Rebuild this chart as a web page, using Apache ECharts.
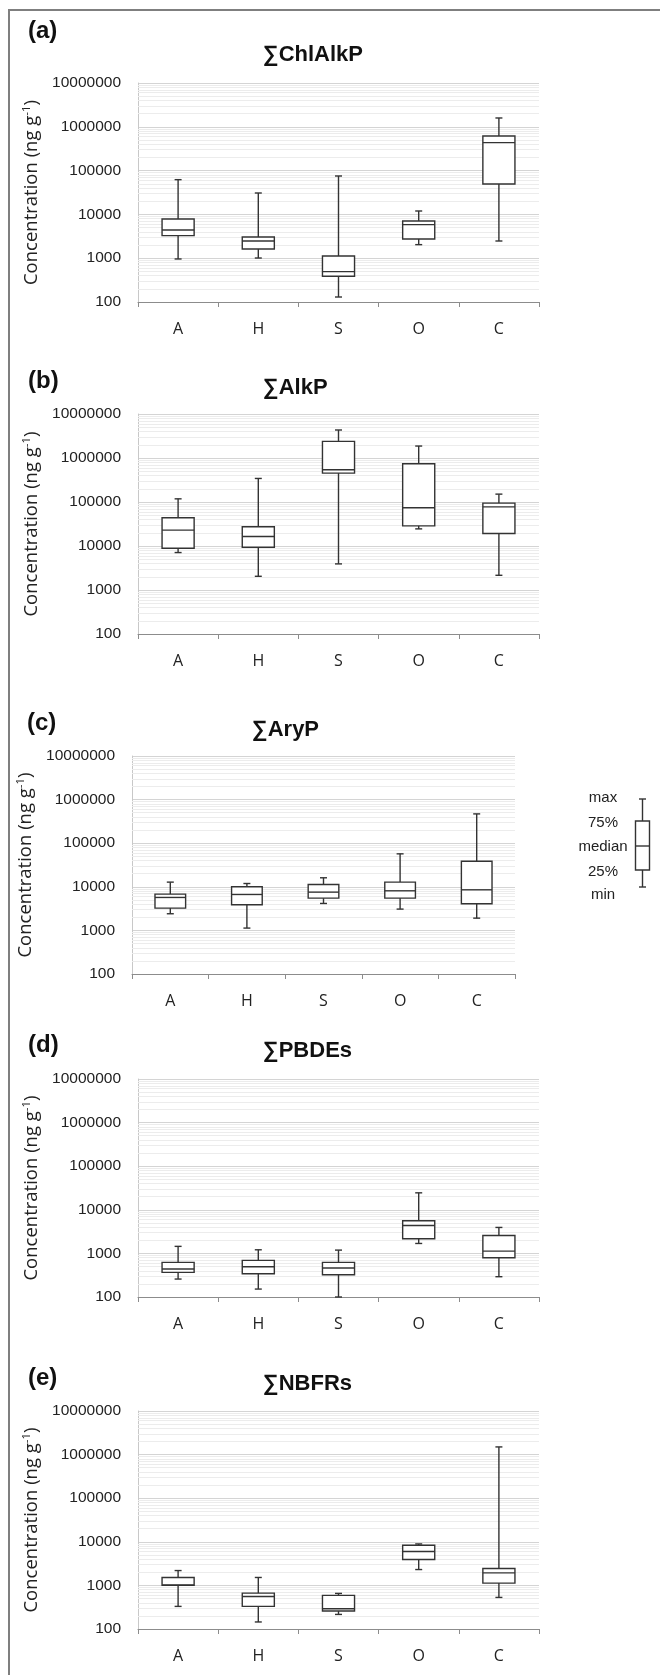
<!DOCTYPE html>
<html>
<head>
<meta charset="utf-8">
<script src="https://cdn.jsdelivr.net/npm/echarts@6/dist/echarts.min.js"></script>
<style>
html, body { margin: 0; padding: 0; background: #fff; }
#main { width: 660px; height: 1675px; }
</style>
</head>
<body>
<div id="main"></div>
<script>
// categories on every x axis
var categories = ['A', 'H', 'S', 'O', 'C'];

// each row: [min, 25%, median, 75%, max] in ng/g
var chlAlkP = [
	[960, 3270, 4400, 7850, 62100],
	[1010, 1620, 2470, 3050, 30800],
	[130, 386, 493, 1120, 75300],
	[2040, 2740, 5830, 7070, 11960],
	[2470, 49400, 435000, 616000, 1590000]
];
var alkP = [
	[7100, 8910, 22900, 43700, 118000],
	[2050, 9400, 16400, 27300, 343000],
	[3920, 454000, 541000, 2390000, 4330000],
	[24500, 28700, 73800, 741000, 1870000],
	[2160, 19200, 77600, 94200, 151000]
];
var aryP = [
	[2410, 3250, 5700, 6790, 12800],
	[1130, 3870, 6670, 10000, 11900],
	[4150, 5500, 7550, 11300, 16100],
	[3080, 5500, 8090, 12800, 57000],
	[1910, 4080, 8530, 38700, 470000]
];
var pbdes = [
	[258, 367, 438, 622, 1450],
	[152, 342, 495, 692, 1210],
	[100, 324, 461, 622, 1190],
	[1690, 2170, 4370, 5600, 24500],
	[292, 796, 1130, 2580, 3940]
];
var nbfrs = [
	[330, 1000, 1030, 1520, 2190],
	[145, 330, 558, 665, 1520],
	[216, 258, 292, 589, 655],
	[2310, 3920, 5970, 8340, 8930],
	[530, 1130, 1940, 2440, 1500000]
];

// y axis range (log)
var yMin = 100;
var yMax = 10000000;

// legend key box (arbitrary units) and its labels
var legendBox = [0, 17, 41, 66, 88];
var legendLabels = ['max', '75%', 'median', '25%', 'min'];

var panels = [
	{tag: '(a)', title: '∑ChlAlkP', stats: chlAlkP, left: 138, top: 83, width: 401, height: 219, titleX: 263, titleY: 57, tagX: 28, tagY: 33},
	{tag: '(b)', title: '∑AlkP', stats: alkP, left: 138, top: 414, width: 401, height: 220, titleX: 263, titleY: 390, tagX: 28, tagY: 383},
	{tag: '(c)', title: '∑AryP', stats: aryP, left: 132, top: 756, width: 383, height: 218, titleX: 252, titleY: 732, tagX: 27, tagY: 725},
	{tag: '(d)', title: '∑PBDEs', stats: pbdes, left: 138, top: 1079, width: 401, height: 218, titleX: 263, titleY: 1053, tagX: 28, tagY: 1047},
	{tag: '(e)', title: '∑NBFRs', stats: nbfrs, left: 138, top: 1411, width: 401, height: 218, titleX: 263, titleY: 1386, tagX: 28, tagY: 1380}
];

// minor log gridlines 2..9 of each decade
var minorVals = [];
for (var e = Math.log10(yMin); e < Math.log10(yMax); e++) {
	for (var k = 2; k < 10; k++) {
		minorVals.push(k * Math.pow(10, e));
	}
}

var lineColor = '#333';

function renderBox(params, api) {
	var x = api.value(0);
	var lo = api.coord([x, api.value(1)]);
	var q1 = api.coord([x, api.value(2)]);
	var md = api.coord([x, api.value(3)]);
	var q3 = api.coord([x, api.value(4)]);
	var hi = api.coord([x, api.value(5)]);
	var n = params.coordSys.width / api.value(6);
	var bw = n * 0.4;
	var cx = lo[0];
	var cap = 3.5;
	var st = {stroke: lineColor, lineWidth: 1.4, fill: null};
	return {
		type: 'group',
		children: [
			{type: 'line', shape: {x1: cx, y1: lo[1], x2: cx, y2: q1[1]}, style: st},
			{type: 'line', shape: {x1: cx, y1: q3[1], x2: cx, y2: hi[1]}, style: st},
			{type: 'line', shape: {x1: cx - cap, y1: lo[1], x2: cx + cap, y2: lo[1]}, style: st},
			{type: 'line', shape: {x1: cx - cap, y1: hi[1], x2: cx + cap, y2: hi[1]}, style: st},
			{type: 'rect', shape: {x: cx - bw / 2, y: q3[1], width: bw, height: q1[1] - q3[1]},
				style: {stroke: lineColor, lineWidth: 1.4, fill: '#fff'}},
			{type: 'line', shape: {x1: cx - bw / 2, y1: md[1], x2: cx + bw / 2, y2: md[1]}, style: st}
		]
	};
}

var grids = [], xAxes = [], yAxes = [], series = [], graphics = [];

panels.forEach(function (p, i) {
	grids.push({left: p.left, top: p.top, width: p.width, height: p.height, containLabel: false});
	xAxes.push({
		type: 'category', gridIndex: i, data: categories,
		axisLine: {lineStyle: {color: '#8c8c8c', width: 1}},
		axisTick: {show: true, length: 5, interval: 0, lineStyle: {color: '#8c8c8c'}},
		axisLabel: {margin: 19, fontSize: 16, color: '#222', fontFamily: 'Open Sans'},
		splitLine: {show: false}
	});
	yAxes.push({
		type: 'log', logBase: 10, gridIndex: i, min: yMin, max: yMax, splitNumber: 5,
		axisLine: {show: true, lineStyle: {color: '#c8c8c8'}},
		axisTick: {show: false},
		axisLabel: {margin: 17, fontSize: 15.5, color: '#222', fontFamily: 'Liberation Sans',
			formatter: function (v) { return String(Math.round(v)); }},
		splitLine: {show: true, lineStyle: {color: '#d4d4d4', width: 1}},
		name: '{m|Concentration (ng g}{s|-1}{m|)}',
		nameLocation: 'middle', nameRotate: 90, nameGap: p.left - 49,
		nameTextStyle: {
			rich: {
				m: {fontSize: 18.5, fontFamily: 'Open Sans', color: '#222', lineHeight: 22},
				s: {fontSize: 11.5, fontFamily: 'Open Sans', color: '#222', verticalAlign: 'top', lineHeight: 22}
			}
		}
	});
	series.push({
		type: 'custom', xAxisIndex: i, yAxisIndex: i, z: 3,
		renderItem: renderBox,
		encode: {x: 0, y: [1, 2, 3, 4, 5]},
		data: p.stats.map(function (s, j) { return [j, s[0], s[1], s[2], s[3], s[4], categories.length]; }),
		markLine: {
			silent: true, z: 1, symbol: ['none', 'none'], animation: false,
			label: {show: false},
			lineStyle: {color: '#ececec', type: 'solid', width: 1},
			data: minorVals.map(function (v) { return {yAxis: v}; })
		}
	});
	graphics.push({type: 'text', left: p.tagX, top: p.tagY - 14,
		style: {text: p.tag, font: 'bold 24px "Liberation Sans"', fill: '#111'}});
	graphics.push({type: 'text', left: p.titleX, top: p.titleY - 13,
		style: {text: p.title, font: 'bold 22px "Liberation Sans"', fill: '#111'}});
});

// legend key box
var li = panels.length;
grids.push({left: 625, top: 799, width: 43, height: 88});
xAxes.push({type: 'category', gridIndex: li, data: ['key'], show: false});
yAxes.push({type: 'value', gridIndex: li, min: legendBox[0], max: legendBox[4], show: false});
series.push({
	type: 'custom', xAxisIndex: li, yAxisIndex: li, z: 3,
	renderItem: renderBox,
	encode: {x: 0, y: [1, 2, 3, 4, 5]},
	data: [[0, legendBox[0], legendBox[1], legendBox[2], legendBox[3], legendBox[4], 1]]
});
var labelY = [798, 823, 847, 872, 895];
legendLabels.forEach(function (t, j) {
	graphics.push({type: 'text', x: 603, y: labelY[j],
		style: {text: t, font: '15px "Liberation Sans"', fill: '#222', textAlign: 'center', textVerticalAlign: 'middle'}});
});

// outer frame (left and top edges visible)
graphics.push({type: 'rect', shape: {x: 9, y: 10, width: 720, height: 1720},
	style: {fill: null, stroke: '#7f7f7f', lineWidth: 2}, z: -1});

var myChart = echarts.init(document.getElementById('main'), null, {renderer: 'canvas'});
myChart.setOption({
	animation: false,
	backgroundColor: '#fff',
	grid: grids,
	xAxis: xAxes,
	yAxis: yAxes,
	series: series,
	graphic: graphics
});
</script>
</body>
</html>
